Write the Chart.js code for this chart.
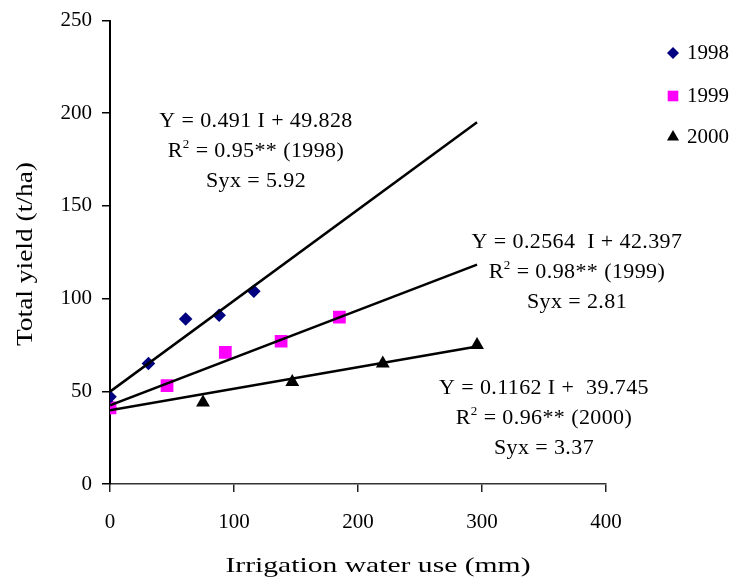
<!DOCTYPE html>
<html><head><meta charset="utf-8">
<script src="https://cdn.jsdelivr.net/npm/chart.js@4/dist/chart.umd.min.js"></script>
<style>html,body{margin:0;padding:0;background:#fff}#wrap{width:737px;height:586px;position:relative}</style>
</head><body><div id="wrap"><canvas id="c"></canvas></div>
<script>
const seriesLabels = ['1998', '1999', '2000'];
const x1998 = [0, 31, 61, 88, 116];
const y1998 = [47, 65, 89, 91, 104];
const x1999 = [0, 46, 93, 138, 185];
const y1999 = [41, 53, 71, 77, 90];
const x2000 = [0, 75, 147, 220, 296];
const y2000 = [43, 44, 55, 65, 75];
const slopes = [0.491, 0.2564, 0.1162];
const intercepts = [49.828, 42.397, 39.745];
const trendRange = [0, 296];
const eqText = ['Y = 0.491 I + 49.828', 'Y = 0.2564  I + 42.397', 'Y = 0.1162 I +  39.745'];
const r2Text = ['0.95** (1998)', '0.98** (1999)', '0.96** (2000)'];
const syxText = ['Syx = 5.92', 'Syx = 2.81', 'Syx = 3.37'];
const xTitle = 'Irrigation water use (mm)';
const yTitle = 'Total yield (t/ha)';

const colors = ['#000080', '#FF00FF', '#000000'];
const styles = ['rectRot', 'rect', 'triangle'];
const radii = [6.8, 9, 8];
const FONT = "'Liberation Serif', 'Times New Roman', serif";

const pts = (xs, ys) => xs.map((x, i) => ({x: x, y: ys[i]}));
const trend = k => trendRange.map(x => ({x: x, y: slopes[k] * x + intercepts[k]}));
const xsAll = [x1998, x1999, x2000], ysAll = [y1998, y1999, y2000];

const datasets = [];
for (let k = 0; k < 3; k++) {
  datasets.push({type: 'line', label: 'trend' + seriesLabels[k], data: trend(k), borderColor: '#000', borderWidth: 2.5,
    pointRadius: 0, fill: false, order: 0});
}
for (let k = 0; k < 3; k++) {
  datasets.push({type: 'scatter', label: seriesLabels[k], data: pts(xsAll[k], ysAll[k]), pointStyle: styles[k],
    pointRadius: radii[k], backgroundColor: colors[k], borderColor: colors[k], borderWidth: 0, order: 1});
}

const blocks = [
  {cx: 256, cy: 121},
  {cx: 577, cy: 242},
  {cx: 544, cy: 388}
];
const LH = 30;

function stretchedText(ctx, text, cx, cy, width) {
  const w = ctx.measureText(text).width;
  const sx = width / w;
  ctx.save();
  ctx.translate(cx, cy);
  ctx.scale(sx, 1);
  ctx.textAlign = 'center';
  ctx.fillText(text, 0, 0);
  ctx.restore();
}

const annot = {
  id: 'annot',
  afterDraw(chart) {
    const ctx = chart.ctx;
    ctx.save();
    ctx.fillStyle = '#000';
    ctx.textBaseline = 'middle';
    ctx.letterSpacing = '0.4px';
    const f = '22px ' + FONT, fs = '13px ' + FONT;
    for (let k = 0; k < 3; k++) {
      const b = blocks[k];
      ctx.font = f; ctx.textAlign = 'center';
      ctx.fillText(eqText[k], b.cx, b.cy);
      ctx.fillText(syxText[k], b.cx, b.cy + 2 * LH);
      const rest = ' = ' + r2Text[k];
      ctx.textAlign = 'left';
      ctx.font = f; const wR = ctx.measureText('R').width; const wRest = ctx.measureText(rest).width;
      ctx.font = fs; const w2 = ctx.measureText('2').width;
      const total = wR + w2 + wRest;
      let x = b.cx - total / 2; const y = b.cy + LH;
      ctx.font = f; ctx.fillText('R', x, y); x += wR;
      ctx.font = fs; ctx.fillText('2', x, y - 6); x += w2;
      ctx.font = f; ctx.fillText(rest, x, y);
    }
    // legend
    const ly = [53, 96, 137];
    ctx.letterSpacing = '0px';
    for (let k = 0; k < 3; k++) {
      ctx.fillStyle = colors[k];
      ctx.strokeStyle = colors[k];
      Chart.helpers.drawPoint(ctx, {pointStyle: styles[k], radius: [6, 7.5, 7][k], borderWidth: 0, rotation: 0}, 673, ly[k]);
      ctx.fillStyle = '#000';
      ctx.font = '21px ' + FONT;
      ctx.textAlign = 'left';
      ctx.fillText(seriesLabels[k], 687, ly[k]);
    }
    // axis titles
    ctx.font = '22px ' + FONT;
    stretchedText(ctx, xTitle, 378, 566, 305);
    ctx.save();
    ctx.translate(26, 254);
    ctx.rotate(-Math.PI / 2);
    ctx.font = '23px ' + FONT;
    stretchedText(ctx, yTitle, 0, 0, 184);
    ctx.restore();
    ctx.restore();
  }
};

Chart.defaults.font.family = FONT;
Chart.defaults.color = '#000';

new Chart(document.getElementById('c'), {
  data: {datasets: datasets},
  plugins: [annot],
  options: {
    responsive: true, maintainAspectRatio: false, animation: false,
    devicePixelRatio: 1,
    layout: {autoPadding: false, padding: {top: 15, right: 131, bottom: 0, left: 0}},
    plugins: {legend: {display: false}, tooltip: {enabled: false}},
    scales: {
      x: {type: 'linear', min: 0, max: 400,
        ticks: {stepSize: 100, font: {size: 21, lineHeight: 1}, color: '#000', padding: 20, maxRotation: 0},
        grid: {drawOnChartArea: false, drawTicks: true, tickLength: 8, color: '#222', lineWidth: 1.5},
        border: {display: true, color: '#333', width: 1.5},
        afterFit: s => { s.height = 102; }
      },
      y: {type: 'linear', min: 0, max: 250,
        ticks: {stepSize: 50, font: {size: 21, lineHeight: 1}, color: '#000', padding: 10},
        grid: {drawOnChartArea: false, drawTicks: true, tickLength: 8, color: '#000', lineWidth: 1.5},
        border: {display: true, color: '#000', width: 2},
        afterFit: s => { s.width = 110; }
      }
    }
  }
});
</script></body></html>
